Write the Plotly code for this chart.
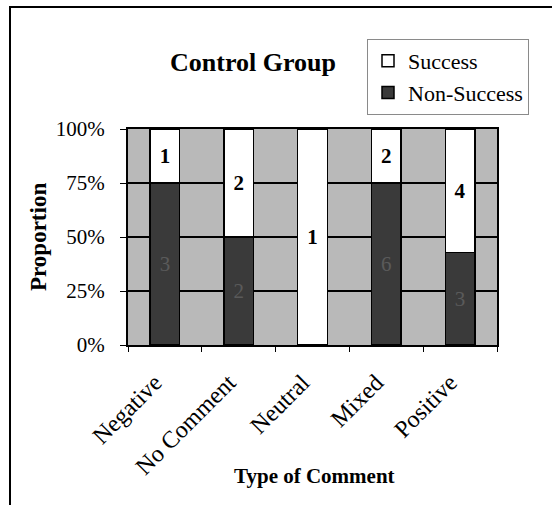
import plotly.graph_objects as go

categories = ["Negative", "No Comment", "Neutral", "Mixed", "Positive"]
success = [1, 2, 1, 2, 4]
non_success = [3, 2, 0, 6, 3]
y_tickvals = [0, 25, 50, 75, 100]
y_ticktext = ["0%", "25%", "50%", "75%", "100%"]

SERIF = "Liberation Serif, Times New Roman, serif"

# plot area in pixels (for converting decoration positions to paper coords)
W, H = 552, 505
L, R, T, B = 128, 55, 129, 160
pw, ph = W - L - R, H - T - B
def px(x):
    return (x - L) / pw
def py(y):
    return (H - B - y) / ph

fig = go.Figure()
fig.add_trace(go.Bar(
    x=categories, y=non_success, name="Non-Success", legendgroup="b",
    marker=dict(color="#3a3a3a", line=dict(color="black", width=1.5)),
    text=[str(v) if v else "" for v in non_success],
    textposition="inside", insidetextanchor="middle", textangle=0,
    textfont=dict(family=SERIF, size=21, color="#5a5a5a"),
    width=0.4,
))
fig.add_trace(go.Bar(
    x=categories, y=success, name="Success", legendgroup="a",
    marker=dict(color="white", line=dict(color="black", width=1.5)),
    text=[str(v) if v else "" for v in success],
    textposition="inside", insidetextanchor="middle", textangle=0,
    textfont=dict(family=SERIF, size=21, color="black", weight="bold"),
    width=0.4,
))

fig.update_layout(
    width=W, height=H,
    margin=dict(l=L, r=R, t=T, b=B, autoexpand=False),
    barmode="stack", barnorm="percent",
    paper_bgcolor="white", plot_bgcolor="#b9b9b9",
    font=dict(family=SERIF, size=20, color="black"),
    showlegend=True,
    legend=dict(
        x=px(367), y=py(39), xanchor="left", yanchor="top",
        traceorder="reversed", tracegroupgap=16,
        bgcolor="white", bordercolor="#8a8a8a", borderwidth=1,
        font=dict(family=SERIF, size=22, color="black"),
        itemwidth=30,
    ),
    title=dict(text="<b>Control Group</b>", xref="paper", x=px(253), xanchor="center",
               yref="container", y=1 - 62 / H, yanchor="middle",
               font=dict(family=SERIF, size=26, color="black")),
    xaxis=dict(
        type="category", tickangle=-45, tickson="boundaries",
        ticks="outside", ticklen=5, tickcolor="black",
        showline=True, linecolor="black", linewidth=2, mirror=True,
        showgrid=False, ticklabelstandoff=12, ticklabelshift=-10,
        tickfont=dict(family=SERIF, size=24, color="black"),
        automargin=False,
    ),
    yaxis=dict(
        range=[0, 100], tickvals=y_tickvals, ticktext=y_ticktext,
        ticks="outside", ticklen=6, tickcolor="black",
        showline=True, linecolor="black", linewidth=2, mirror=True,
        showgrid=True, gridcolor="black", gridwidth=1.5,
        zeroline=False, ticklabelstandoff=11,
        tickfont=dict(family=SERIF, size=21, color="black"),
        automargin=False,
    ),
    annotations=[
        dict(text="<b>Proportion</b>", xref="paper", yref="paper",
             x=px(38), y=py(237), xanchor="center", yanchor="middle",
             textangle=-90, showarrow=False,
             font=dict(family=SERIF, size=23, color="black")),
        dict(text="<b>Type of Comment</b>", xref="paper", yref="paper",
             x=px(314), y=py(476), xanchor="center", yanchor="middle",
             showarrow=False,
             font=dict(family=SERIF, size=21, color="black")),
    ],
    shapes=[
        dict(type="rect", xref="paper", yref="paper",
             x0=px(10), x1=px(620), y0=py(560), y1=py(7),
             line=dict(color="black", width=2), fillcolor="rgba(0,0,0,0)",
             layer="below"),
    ],
)

fig.write_html("out.html", config={"displayModeBar": False},
               post_script="document.body.style.margin='0';document.body.style.overflow='hidden';")
